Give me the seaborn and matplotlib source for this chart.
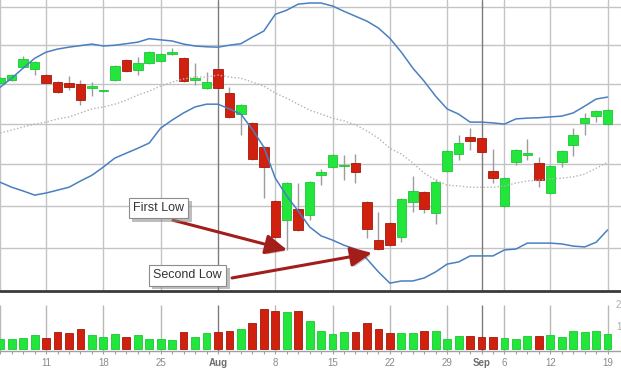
import numpy as np
import pandas as pd
import matplotlib
matplotlib.use("Agg")
import matplotlib.pyplot as plt
import matplotlib.transforms as mtransforms
import matplotlib.patheffects as pe
import seaborn as sns

# trading days shown on the chart (Labor Day is a holiday)
dates = pd.bdate_range("2011-07-05", "2011-09-19").drop(pd.Timestamp("2011-09-05"))

opens = [49.02, 49.10, 49.43, 49.38, 49.23, 49.05, 49.02, 49.00, 48.90, 48.82,
         49.10, 49.61, 49.36, 49.54, 49.59, 49.77, 49.66, 49.10, 48.90, 49.38,
         48.77, 48.24, 48.02, 47.42, 46.11, 45.65, 45.92, 45.77, 46.73, 46.93,
         46.95, 47.03, 46.08, 45.18, 45.58, 45.25, 46.08, 46.32, 45.82, 46.83,
         47.25, 47.67, 47.64, 46.83, 45.99, 47.05, 47.22, 47.03, 46.30, 47.05,
         47.47, 48.02, 48.19, 47.99]
closes = [49.15, 49.23, 49.64, 49.56, 49.02, 48.79, 48.92, 48.59, 48.95, 48.83,
          49.46, 49.33, 49.54, 49.82, 49.77, 49.82, 49.07, 49.15, 49.05, 48.90,
          48.17, 48.47, 47.12, 46.93, 45.25, 46.54, 45.42, 46.56, 46.81, 47.22,
          46.98, 46.81, 45.44, 44.97, 45.06, 46.16, 46.35, 45.92, 46.56, 47.32,
          47.52, 47.57, 47.30, 46.66, 46.66, 47.35, 47.27, 46.61, 46.95, 47.32,
          47.72, 48.14, 48.32, 48.34]
highs = [49.18, 49.25, 49.72, 49.59, 49.25, 49.07, 49.20, 49.10, 49.05, 48.85,
         49.48, 49.64, 49.69, 49.85, 49.79, 49.92, 49.69, 49.54, 49.30, 49.41,
         48.92, 48.49, 48.04, 47.44, 46.13, 46.56, 46.54, 46.59, 46.88, 47.25,
         47.22, 47.25, 46.11, 45.84, 45.61, 46.18, 46.71, 46.35, 46.64, 47.35,
         47.72, 47.89, 47.67, 47.37, 46.69, 47.37, 47.62, 47.17, 46.98, 47.35,
         47.89, 48.27, 48.34, 48.37]
lows = [49.00, 49.07, 49.41, 49.23, 49.00, 48.77, 48.85, 48.47, 48.69, 48.80,
        49.07, 49.30, 49.23, 49.51, 49.56, 49.74, 49.05, 48.97, 48.87, 48.87,
        48.14, 47.72, 47.10, 46.18, 45.23, 44.95, 45.39, 45.65, 46.49, 46.90,
        46.61, 46.54, 45.23, 44.95, 45.04, 45.13, 45.84, 45.82, 45.56, 46.81,
        47.10, 47.35, 47.27, 46.54, 45.96, 46.98, 47.10, 46.44, 46.27, 46.93,
        47.20, 47.72, 48.04, 47.97]
volume = [0.45, 0.45, 0.50, 0.64, 0.50, 0.77, 0.73, 0.91, 0.64, 0.55,
          0.68, 0.55, 0.64, 0.45, 0.45, 0.41, 0.77, 0.55, 0.73, 0.77,
          0.82, 0.91, 1.18, 1.82, 1.73, 1.68, 1.73, 1.27, 0.82, 0.68,
          0.77, 0.77, 1.18, 0.91, 0.73, 0.73, 0.73, 0.82, 0.82, 0.45,
          0.59, 0.59, 0.55, 0.55, 0.50, 0.45, 0.59, 0.59, 0.64, 0.55,
          0.82, 0.77, 0.82, 0.68]
upper_band = [48.92, 49.15, 49.41, 49.66, 49.82, 49.90, 49.95, 49.99, 50.03, 49.98,
              50.00, 50.04, 50.08, 50.17, 50.14, 50.11, 50.03, 49.98, 49.96, 49.95,
              50.00, 50.04, 50.21, 50.37, 50.81, 50.92, 51.08, 51.11, 51.11, 51.03,
              50.89, 50.76, 50.63, 50.45, 50.18, 49.82, 49.41, 49.07, 48.69, 48.37,
              48.24, 48.04, 48.04, 48.02, 47.99, 48.12, 48.14, 48.15, 48.17, 48.19,
              48.27, 48.44, 48.62, 48.67]
middle_band = [47.77, 47.84, 47.92, 47.99, 48.04, 48.12, 48.17, 48.27, 48.37, 48.42,
               48.49, 48.59, 48.72, 48.82, 48.95, 49.05, 49.13, 49.18, 49.18, 49.23,
               49.18, 49.15, 49.05, 48.95, 48.77, 48.64, 48.49, 48.34, 48.24, 48.14,
               48.07, 47.97, 47.82, 47.64, 47.39, 47.25, 47.03, 46.78, 46.61, 46.49,
               46.47, 46.44, 46.44, 46.44, 46.47, 46.54, 46.59, 46.61, 46.64, 46.66,
               46.69, 46.76, 46.90, 47.05]
lower_band = [46.56, 46.44, 46.35, 46.25, 46.30, 46.37, 46.44, 46.59, 46.73, 46.93,
              47.15, 47.27, 47.39, 47.52, 47.89, 48.09, 48.27, 48.42, 48.49, 48.49,
              48.37, 48.24, 47.86, 47.42, 46.66, 46.23, 45.87, 45.49, 45.28, 45.18,
              45.06, 44.97, 44.74, 44.44, 44.18, 44.23, 44.23, 44.30, 44.44, 44.62,
              44.67, 44.81, 44.81, 44.81, 44.95, 44.97, 45.11, 45.11, 45.11, 45.09,
              45.04, 45.02, 45.13, 45.42]

tick_dates = ["2011-07-11", "2011-07-18", "2011-07-25", "2011-08-01", "2011-08-08",
              "2011-08-15", "2011-08-22", "2011-08-29", "2011-09-01", "2011-09-06",
              "2011-09-12", "2011-09-19"]
tick_labels = ["11", "18", "25", "Aug", "8", "15", "22", "29", "Sep", "6", "12", "19"]
price_grid = [45, 46, 47, 48, 49, 50, 51]
volume_labels = [2, 1]

sns.set_theme(style="white")
plt.rcParams["font.family"] = ["Liberation Sans", "DejaVu Sans"]

GREEN = "#22e63c"
RED = "#d0210f"
BAND = "#4a7fc0"

x = np.arange(len(dates))
o = np.array(opens)
c = np.array(closes)
h = np.array(highs)
l = np.array(lows)
rising = c >= o
colors = np.where(rising, GREEN, RED)
edges = np.where(rising, "#1bc733", "#a3170b")

# first trading day of each week / month -> grid lines
week_start = [0] + [i for i in range(1, len(dates))
                    if dates[i].weekday() < dates[i - 1].weekday()
                    or dates[i].month != dates[i - 1].month]
month_start = [i for i in week_start if i > 0 and dates[i].month != dates[i - 1].month]
tick_pos = [dates.get_loc(pd.Timestamp(d)) for d in tick_dates]

fig = plt.figure(figsize=(6.21, 3.73), dpi=100)
ax = fig.add_axes([0, 82 / 373, 1, 291 / 373])
ax2 = fig.add_axes([0, 22 / 373, 1, 58 / 373], sharex=ax)

# ---- price panel
ax.set_yscale("log")
for p in price_grid:
    ax.axhline(p, color="#c4c4c4", lw=1, zorder=0)
for i in week_start:
    ax.axvline(i, color="#7c7c7c" if i in month_start else "#c4c4c4", lw=1, zorder=0)

ax.vlines(x, l, h, color="#9c9c9c", lw=1, zorder=2)
ax.bar(x, np.maximum(np.abs(c - o), 0.035), bottom=np.minimum(o, c), width=0.83,
       color=colors, edgecolor=edges, linewidth=0.6, zorder=3)

sns.lineplot(x=x, y=upper_band, ax=ax, color=BAND, lw=1.1, zorder=4)
sns.lineplot(x=x, y=lower_band, ax=ax, color=BAND, lw=1.1, zorder=4)
sns.lineplot(x=x, y=middle_band, ax=ax, color="#b4b4b4", lw=1, linestyle=(0, (1, 1.5)), zorder=4)

ax.set_ylim(44.0, 51.19)
ax.set_xlim(-0.02, 54.17)
ax.set(xlabel="", ylabel="")
ax.tick_params(which="both", left=False, bottom=False, labelleft=False, labelbottom=False)
for s in ["top", "left", "right"]:
    ax.spines[s].set_visible(False)
ax.spines["bottom"].set_color("#3a3a3a")
ax.spines["bottom"].set_linewidth(2)


def label_box(xc, yc, s):
    t = ax.text(xc, yc, s, fontsize=9, color="#333333", ha="center", va="center",
                bbox=dict(boxstyle="square,pad=0.35", fc="white", ec="#8c8c8c", lw=0.8), zorder=7)
    t.get_bbox_patch().set_path_effects([
        pe.SimplePatchShadow(offset=(2.5, -2.5), shadow_rgbFace="#8a8a8a", alpha=0.55),
        pe.Normal()])


def arrow(start, tip):
    ann = ax.annotate("", xy=tip, xytext=start, zorder=5,
                      arrowprops=dict(arrowstyle="-|>,head_length=0.65,head_width=0.3",
                                      color="#a31d1b", lw=2.2, mutation_scale=20,
                                      shrinkA=0, shrinkB=0))
    ann.arrow_patch.set_path_effects([pe.SimplePatchShadow(offset=(1.5, -1.5), alpha=0.25),
                                      pe.Normal()])


arrow((15.08, 45.65), (25.03, 44.95))
arrow((20.23, 44.30), (32.44, 44.88))
label_box(13.81, 45.94, "First Low")
label_box(16.34, 44.36, "Second Low")

# ---- volume panel
ax2.set_ylim(-0.09, 2.545)
ax2.vlines(week_start, -0.09, 2.0,
           colors=["#7c7c7c" if i in month_start else "#b8b8b8" for i in week_start],
           lw=1, zorder=0)
ax2.bar(x, volume, width=0.68, color=colors, edgecolor=edges, linewidth=0.6, zorder=2)
for s in ["top", "left", "right"]:
    ax2.spines[s].set_visible(False)
ax2.spines["bottom"].set_color("#a0a0a0")
ax2.spines["bottom"].set_linewidth(1)
ax2.set_yticks([])
ax2.set_xticks(tick_pos)
ax2.set_xticklabels(tick_labels)
ax2.set_xticks(x, minor=True)
ax2.tick_params(axis="x", which="both", bottom=True, direction="out", length=2.2,
                width=0.8, color="#a0a0a0", pad=2.5, labelsize=7, labelcolor="#8a8a8a")
for lab in ax2.get_xticklabels():
    if not lab.get_text().isdigit():
        lab.set_fontweight("bold")
        lab.set_color("#6e6e6e")
ax2.set_xlim(-0.02, 54.17)

lab_tr = mtransforms.blended_transform_factory(ax2.transAxes, ax2.transData)
for v in volume_labels:
    ax2.text(0.992, v, str(v), transform=lab_tr, fontsize=7, color="#aaaaaa",
             ha="left", va="center")

fig.savefig("out.png", dpi=100)
plt.close(fig)
